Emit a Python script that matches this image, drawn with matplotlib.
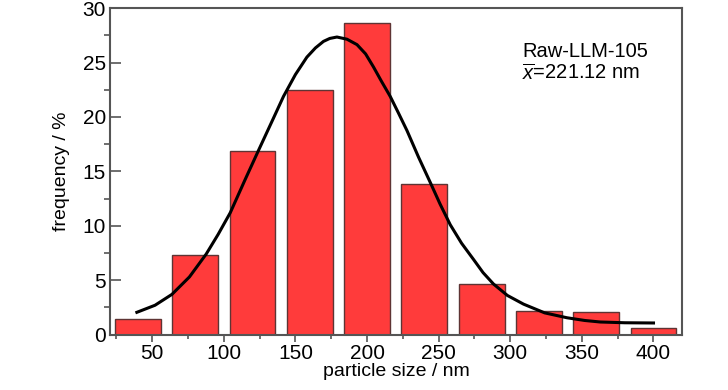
import matplotlib
matplotlib.use("Agg")
import matplotlib.pyplot as plt
from matplotlib.ticker import MultipleLocator

plt.rcParams['font.family'] = ['Liberation Sans', 'DejaVu Sans']
plt.rcParams['mathtext.fontset'] = 'custom'
plt.rcParams['mathtext.rm'] = 'Liberation Sans'
plt.rcParams['mathtext.it'] = 'Liberation Sans:italic'

# histogram of particle sizes
centros = [40, 80, 120, 160, 200, 240, 280, 320, 360, 400]
frecuencia = [1.44, 7.3, 16.92, 22.47, 28.64, 13.83, 4.68, 2.17, 2.05, 0.58]

# fitted curve, points
curva_x = [39.3, 52, 63.8, 76, 87.7, 96, 104.5, 114.9, 124.2, 134.7, 141.7,
           150, 158.0, 164, 169.6, 174, 179.0, 186, 193.0, 199, 204.5, 210,
           216.2, 222, 227.9, 236, 244.1, 251, 258.1, 266, 274.4, 281, 288.3,
           298, 309.3, 324, 339.6, 352, 362.8, 380, 400.0]
curva_y = [2.05, 2.7, 3.7, 5.3, 7.4, 9.2, 11.2, 14.25, 16.92, 19.9, 21.9,
           23.9, 25.5, 26.35, 26.95, 27.22, 27.35, 27.15, 26.65, 25.8, 24.6, 23.3,
           21.89, 20.35, 18.75, 16.3, 14.0, 12.0, 10.1, 8.4, 6.9, 5.7, 4.65,
           3.6, 2.8, 2.0, 1.55, 1.3, 1.16, 1.09, 1.07]

fig = plt.figure(figsize=(7.28, 3.9), dpi=100)
ax = fig.add_axes([0.151, 0.142, 0.786, 0.837])

ax.bar(centros, frecuencia, width=32, color='#ff3b3b', edgecolor='#5e3434', linewidth=1.0, zorder=2)
ax.plot(curva_x, curva_y, color='black', linewidth=2.2, zorder=3, solid_joinstyle='round')

ax.set_xlim(20.5, 420)
ax.set_ylim(0, 30)
ax.xaxis.set_major_locator(MultipleLocator(50))
ax.xaxis.set_minor_locator(MultipleLocator(25))
ax.yaxis.set_major_locator(MultipleLocator(5))
ax.yaxis.set_minor_locator(MultipleLocator(2.5))

for s in ax.spines.values():
    s.set_color('#555555')
    s.set_linewidth(1.5)

ax.tick_params(axis='x', which='major', direction='out', length=5, width=1.2, color='#555555', labelsize=15, pad=2)
ax.tick_params(axis='x', which='minor', direction='out', length=3, width=1.2, color='#555555')
ax.tick_params(axis='y', which='major', direction='in', length=8, width=1.2, color='#555555', labelsize=15, pad=3)
ax.tick_params(axis='y', which='minor', direction='out', length=4, width=1.2, color='#555555')

ax.set_xlabel('particle size / nm', fontsize=14, labelpad=0)
ax.set_ylabel('frequency / %', fontsize=14, labelpad=9)

ax.text(0.72, 0.895, 'Raw-LLM-105\n' + r'$\overline{x}$=221.12 nm', transform=ax.transAxes,
        fontsize=14.5, va='top', ha='left', linespacing=1.1)

fig.savefig('out.png', dpi=100)
